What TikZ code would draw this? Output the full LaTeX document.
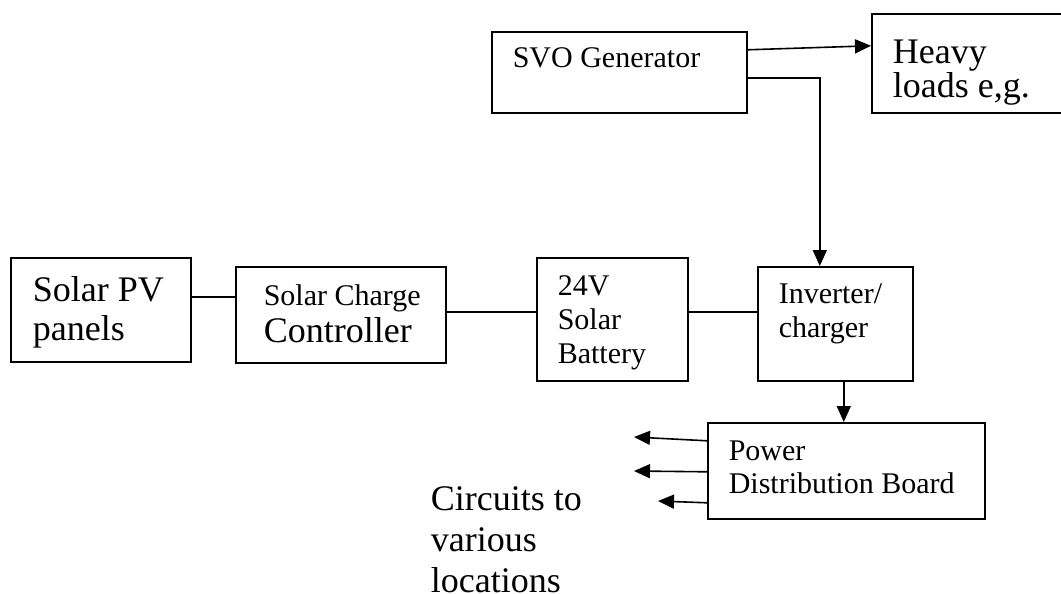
\documentclass[tikz,border=0pt]{standalone}
\usepackage{fontspec}
\setmainfont{Liberation Serif}
\usetikzlibrary{arrows.meta,positioning}
\newcommand{\bigtxt}{\fontsize{36}{39}\selectfont}
\newcommand{\smalltxt}{\fontsize{30}{34}\selectfont}
\begin{document}
\begin{tikzpicture}[x=1pt,y=-1pt,line width=1.6pt,>={Triangle[length=16pt,width=14pt]},
  blk/.style={draw,anchor=north west,inner sep=0pt},
  txt/.style={anchor=base west,inner sep=0pt,align=left}]
\useasboundingbox (0,0) rectangle (1061,594);
% boxes
\node[blk,minimum width=180,minimum height=104](pv) at (10,257){};
\node[blk,minimum width=210,minimum height=96](ctrl) at (235,266){};
\node[blk,minimum width=151,minimum height=123](bat) at (536,257){};
\node[blk,minimum width=155,minimum height=114](inv) at (757,266){};
\node[blk,minimum width=255,minimum height=81](svo) at (491,31){};
\node[blk,minimum width=200,minimum height=99](heavy) at (871,13){};
\node[blk,minimum width=277,minimum height=96](pdb) at (707,422){};
% texts (placed at baseline of last line)
\node[txt,font=\bigtxt](pvtxt) at (32,340){Solar PV\\panels};
\node[txt,font=\bigtxt](ctrltxt) at (263,342){{\smalltxt Solar Charge}\\[-2pt]Controller};
\node[txt,font=\smalltxt](battxt) at (557,363){24V\\Solar\\Battery};
\node[txt,font=\smalltxt](invtxt) at (778,337){Inverter/\\charger};
\node[txt,font=\smalltxt](svotxt) at (512,68){SVO Generator};
\node[txt,font=\bigtxt](heavytxt) at (892,98){Heavy\\[-4pt]loads e,g.};
\node[txt,font=\smalltxt](pdbtxt) at (728,493){Power\\[-1pt]Distribution Board};
\node[txt,font=\fontsize{36}{41}\selectfont](circtxt) at (430,592){Circuits to\\various\\locations};
% circuit ends
\coordinate (c1) at (634,437);
\coordinate (c2) at (634,471);
\coordinate (c3) at (658,501);
% links
\draw ([yshift=13pt]pv.east) -- ([yshift=13pt]pv.east -| ctrl.west);
\draw ([yshift=3pt]ctrl.east) -- ([yshift=3pt]ctrl.east -| bat.west);
\draw ([yshift=7.5pt]bat.east) -- ([yshift=7.5pt]bat.east -| inv.west);
\draw[->] ([yshift=22.5pt]svo.east) -- ([yshift=17.5pt]heavy.west);
\draw[->] ([yshift=-5.5pt]svo.east) -| ([xshift=-15.5pt]inv.north);
\draw[->] ([xshift=8.5pt]inv.south) -- ([xshift=8.5pt]inv.south |- pdb.north);
\draw[->] ([yshift=30pt]pdb.west) -- (c1);
\draw[->] ([yshift=-1pt]pdb.west) -- (c2);
\draw[->] ([yshift=-32pt]pdb.west) -- (c3);
\end{tikzpicture}
\end{document}
